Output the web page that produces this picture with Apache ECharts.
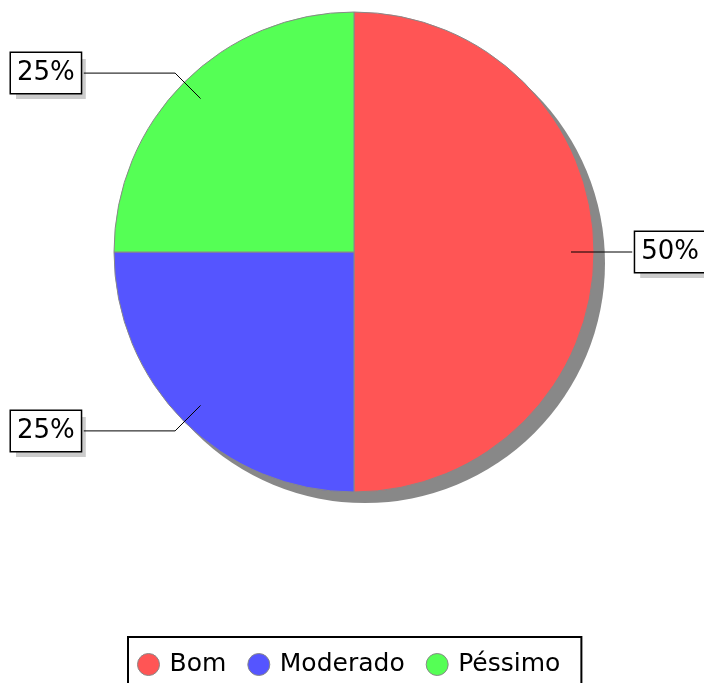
<!DOCTYPE html>
<html>
<head>
<meta charset="utf-8">
<script src="https://cdn.jsdelivr.net/npm/echarts@6/dist/echarts.min.js"></script>
<style>html,body{margin:0;padding:0;background:#fff}#c{width:704px;height:683px}</style>
</head>
<body>
<div id="c"></div>
<script>
const categories = ['Bom', 'Moderado', 'Péssimo'];
const values = [50, 25, 25];
const colors = ['#ff5555', '#5555ff', '#55ff55'];

const font = 'DejaVu Sans';
const data = categories.map((n, i) => ({ name: n, value: values[i], itemStyle: { color: colors[i] } }));
const plain = () => categories.map((n, i) => ({ name: n, value: values[i] }));
const baseLabel = {
  show: true,
  formatter: p => p.value + '%',
  alignTo: 'edge',
  edgeDistance: 0,
  distanceToLabelLine: 0,
  fontFamily: font,
  fontSize: 26,
  padding: [6, 6, 6, 6],
  lineHeight: 28
};
const chart = echarts.init(document.getElementById('c'));
chart.setOption({
  animation: false,
  legend: {
    data: categories,
    left: 128,
    top: 637,
    orient: 'horizontal',
    icon: 'circle',
    itemWidth: 32,
    itemHeight: 22,
    itemGap: 21,
    padding: [15, 21, 15, 9],
    borderColor: '#000',
    borderWidth: 2,
    itemStyle: { borderColor: '#888', borderWidth: 1 },
    textStyle: { fontFamily: font, fontSize: 25, color: '#000' }
  },
  series: [
    {
      type: 'pie', z: 2, left: 11, right: -1, top: 0, bottom: 0,
      center: [343, 252], radius: 240, startAngle: 90, clockwise: true,
      silent: true,
      data: data,
      itemStyle: { borderColor: '#888', borderWidth: 1 },
      label: { show: false }, labelLine: { show: false }
    },
    {
      type: 'pie', z: 1, left: 11, right: -1, top: 0, bottom: 0,
      center: [354, 263], radius: 240, startAngle: 90, clockwise: true,
      silent: true,
      data: plain(),
      itemStyle: { color: '#888888', borderWidth: 0 },
      label: { show: false }, labelLine: { show: false }
    },
    {
      type: 'pie', z: 3, left: 16, right: -6, top: 0, bottom: 0,
      center: [343, 258], radius: 217, startAngle: 90, clockwise: true,
      silent: true,
      data: plain(),
      itemStyle: { color: 'rgba(0,0,0,0)', borderWidth: 0 },
      label: Object.assign({}, baseLabel, {
        color: 'rgba(0,0,0,0)',
        backgroundColor: '#cccccc'
      }),
      labelLayout: { hideOverlap: false },
      labelLine: { show: true, length: 36, length2: 20, lineStyle: { color: 'rgba(0,0,0,0)', opacity: 0 } }
    },
    {
      type: 'pie', z: 4, left: 11, right: -1, top: 0, bottom: 0,
      center: [343, 252], radius: 217, startAngle: 90, clockwise: true,
      silent: true,
      data: plain(),
      itemStyle: { color: 'rgba(0,0,0,0)', borderWidth: 0 },
      label: Object.assign({}, baseLabel, {
        color: '#000',
        backgroundColor: '#fff',
        borderColor: '#000',
        borderWidth: 1.5
      }),
      labelLayout: { hideOverlap: false },
      labelLine: {
        show: true, length: 36, length2: 20,
        lineStyle: { color: '#000', width: 1 }
      }
    }
  ]
});
</script>
</body>
</html>
